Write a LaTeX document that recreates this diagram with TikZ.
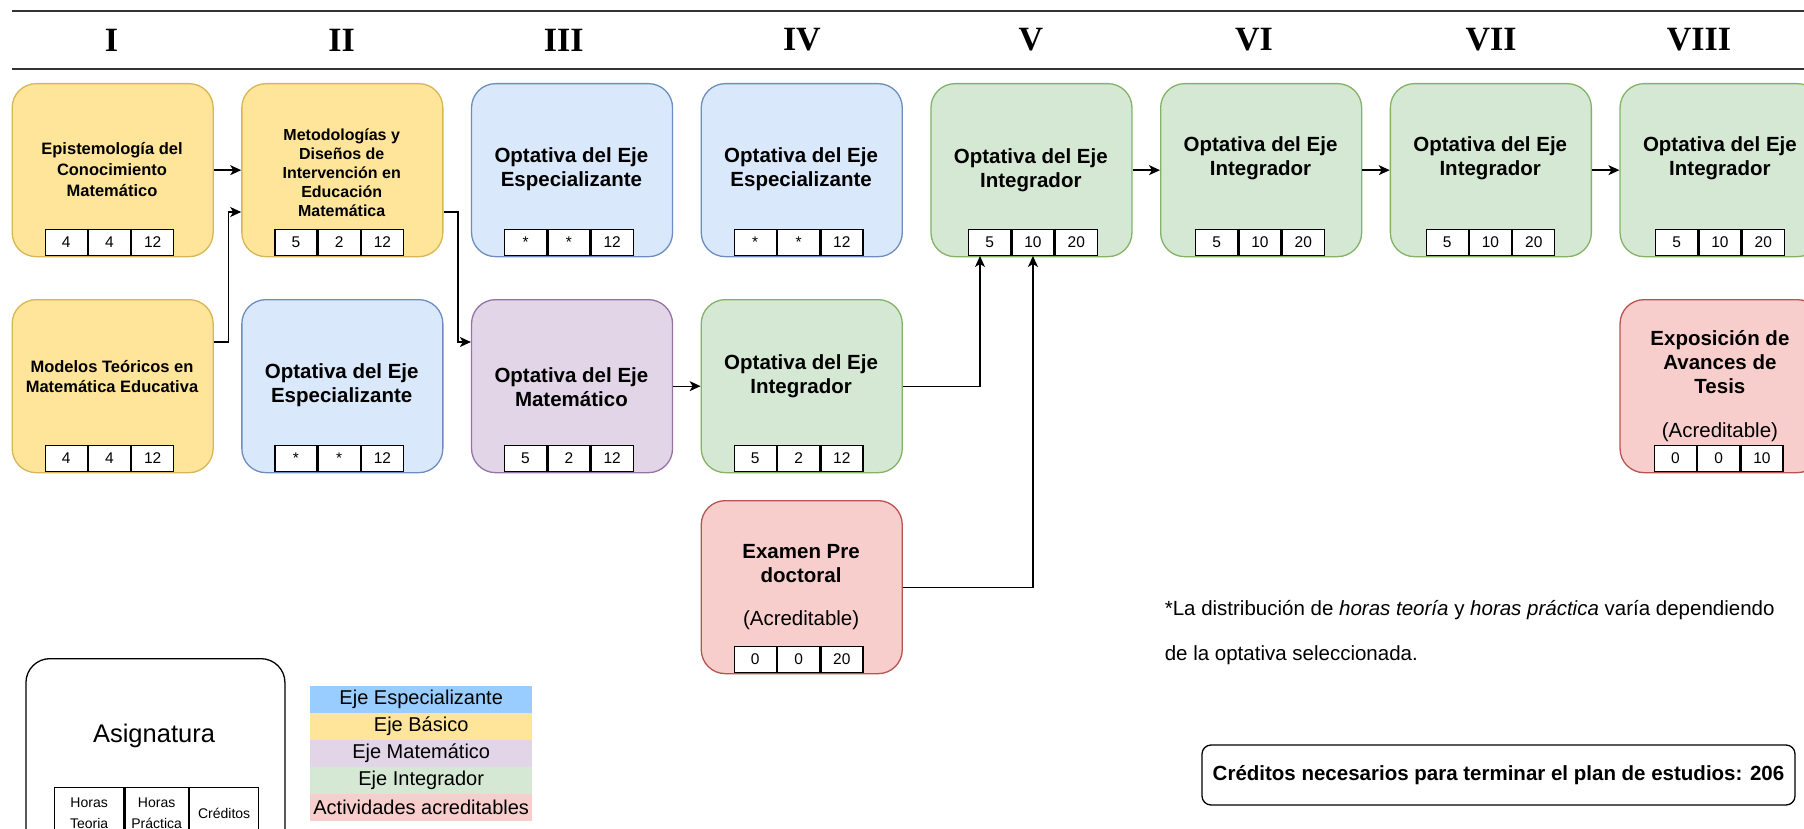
\documentclass[tikz,border=0pt]{standalone}
\usepackage{fontspec}
\setmainfont{Liberation Sans}
\newfontfamily\romfont{Liberation Serif}
\usetikzlibrary{arrows.meta}
\definecolor{bfill}{HTML}{DAE8FC}
\definecolor{bline}{HTML}{6C8EBF}
\definecolor{yfill}{HTML}{FFE599}
\definecolor{yline}{HTML}{D6B656}
\definecolor{pfill}{HTML}{E1D5E7}
\definecolor{pline}{HTML}{9673A6}
\definecolor{gfill}{HTML}{D5E8D4}
\definecolor{gline}{HTML}{82B366}
\definecolor{rfill}{HTML}{F8CECC}
\definecolor{rline}{HTML}{B85450}
\definecolor{legblue}{HTML}{99CCFF}
\definecolor{hdr}{HTML}{333333}
\newcommand\fsz[2]{\fontsize{#1}{#2}\selectfont}
\newcommand\mktab[6]{%
  \node[cell,anchor=south west] (#1a) at (#2,#3) {#4};
  \node[cell,anchor=west] (#1b) at (#1a.east) {#5};
  \node[cell,anchor=west] (#1c) at (#1b.east) {#6};}
\begin{document}
\begin{tikzpicture}[x=1pt,y=-1pt,
  box/.style={draw, rounded corners=24pt, minimum width=201pt, minimum height=173pt, line width=1.3pt, inner sep=0pt, anchor=north west},
  yel/.style={fill=yfill,draw=yline},
  blu/.style={fill=bfill,draw=bline},
  pur/.style={fill=pfill,draw=pline},
  grn/.style={fill=gfill,draw=gline},
  red/.style={fill=rfill,draw=rline},
  ttl/.style={align=center, inner sep=0pt, font=\bfseries\fsz{20.5}{24}},
  acr/.style={inner sep=0pt, font=\fsz{20.5}{24}},
  cell/.style={draw=black, fill=white, line width=1.3pt, minimum width=42pt, minimum height=26pt, inner sep=0pt, font=\fsz{15.5}{18}},
  lcell/.style={draw=black, fill=white, line width=1.3pt, minimum height=51pt, inner sep=0pt, align=center, font=\fsz{14}{21}},
  leg/.style={minimum width=222pt, minimum height=26.6pt, inner sep=0pt, font=\fsz{20}{24}},
  arr/.style={draw=black, line width=1.3pt, -{Stealth[length=11pt,width=10pt,inset=3pt]}},
  numeral/.style={font=\romfont\bfseries\fsz{34}{40}, inner sep=0pt},
]
\useasboundingbox (0,0) rectangle (1804,829);
\clip (0,0) rectangle (1804,829);
% header
\draw[hdr, line width=2pt] (11.5,11.5) -- (1804,11.5);
\draw[hdr, line width=2pt] (11.5,69) -- (1804,69);
\node[numeral] (n1) at (111.6,40) {I};
\node[numeral] (n2) at (341.7,40) {II};
\node[numeral] (n3) at (563.7,40) {III};
\node[numeral] (n4) at (801.9,40) {IV};
\node[numeral] (n5) at (1030.8,40) {V};
\node[numeral] (n6) at (1254,40) {VI};
\node[numeral] (n7) at (1491,40) {VII};
\node[numeral] (n8) at (1699,40) {VIII};
% row 1
\node[box,yel] (c1) at (11.5,83) {};
\node[ttl,font=\bfseries\fsz{16.5}{21}] (c1t) at (112,170) {Epistemología del\\Conocimiento\\Matemático};
\mktab{c1}{44.5}{256}{4}{4}{12}
\node[box,yel] (c2) at (241.2,83) {};
\node[ttl,font=\bfseries\fsz{16}{19}] (c2t) at (341.7,173) {Metodologías y\\Diseños de\\Intervención en\\Educación\\Matemática};
\mktab{c2}{274.2}{256}{5}{2}{12}
\node[box,blu] (c3) at (470.9,83) {};
\node[ttl] (c3t) at (571.4,169) {Optativa del Eje\\Especializante};
\mktab{c3}{503.9}{256}{*}{*}{12}
\node[box,blu] (c4) at (700.6,83) {};
\node[ttl] (c4t) at (801.1,169) {Optativa del Eje\\Especializante};
\mktab{c4}{733.6}{256}{*}{*}{12}
\node[box,grn] (c5) at (930.3,83) {};
\node[ttl] (c5t) at (1030.8,170.5) {Optativa del Eje\\Integrador};
\mktab{c5}{968}{256}{5}{10}{20}
\node[box,grn] (c6) at (1160,83) {};
\node[ttl] (c6t) at (1260.5,158) {Optativa del Eje\\Integrador};
\mktab{c6}{1195}{256}{5}{10}{20}
\node[box,grn] (c7) at (1389.7,83) {};
\node[ttl] (c7t) at (1490.2,158) {Optativa del Eje\\Integrador};
\mktab{c7}{1425.5}{256}{5}{10}{20}
\node[box,grn] (c8) at (1619.4,83) {};
\node[ttl] (c8t) at (1719.9,158) {Optativa del Eje\\Integrador};
\mktab{c8}{1655}{256}{5}{10}{20}
% row 2
\node[box,yel] (m1) at (11.5,299) {};
\node[ttl,font=\bfseries\fsz{16.5}{20}] (m1t) at (112,376.7) {Modelos Teóricos en\\Matemática Educativa};
\mktab{m1}{44.5}{472}{4}{4}{12}
\node[box,blu] (e2) at (241.2,299) {};
\node[ttl] (e2t) at (341.7,385) {Optativa del Eje\\Especializante};
\mktab{e2}{274.2}{472}{*}{*}{12}
\node[box,pur] (p3) at (470.9,299) {};
\node[ttl] (p3t) at (571.4,387) {Optativa del Eje\\Matemático};
\mktab{p3}{503.9}{472}{5}{2}{12}
\node[box,grn] (g4) at (700.6,299) {};
\node[ttl] (g4t) at (801.1,376) {Optativa del Eje\\Integrador};
\mktab{g4}{733.6}{472}{5}{2}{12}
\node[box,red] (t8) at (1619.4,299) {};
\node[ttl] (t8t) at (1719.9,362) {Exposición de\\Avances de\\Tesis};
\node[acr] (t8a) at (1719.9,432) {(Acreditable)};
\mktab{t8}{1653.7}{472}{0}{0}{10}
% row 3
\node[box,red] (x4) at (700.6,500) {};
\node[ttl] (x4t) at (801.1,563.5) {Examen Pre\\doctoral};
\node[acr] (x4a) at (801.1,620) {(Acreditable)};
\mktab{x4}{733.6}{673}{0}{0}{20}
% connectors
\draw[arr] (c1.east) -- (c2.west);
\draw[arr] ([yshift=-43pt]m1.north east) -- ++(15,0) |- ([yshift=-129pt]c2.north west);
\draw[arr] ([yshift=-129pt]c2.north east) -- ++(14.4,0) |- ([yshift=-43pt]p3.north west);
\draw[arr] (p3.east) -- (g4.west);
\draw[arr] (g4.east) -| ([xshift=12pt]c5a.south west);
\draw[arr] (x4.east) -| (c5b.south);
\draw[arr] (c5.east) -- (c6.west);
\draw[arr] (c6.east) -- (c7.west);
\draw[arr] (c7.east) -- (c8.west);
% note
\node[anchor=west, align=left, font=\fsz{20.5}{45}, inner sep=0pt] (note) at (1164.6,632.5) {*La distribución de \textit{horas teoría} y \textit{horas práctica} varía dependiendo\\de la optativa seleccionada.};
% legend: asignatura
\node[draw=black, line width=1.3pt, rounded corners=24pt, minimum width=259pt, minimum height=250pt, anchor=north west, inner sep=0pt] (asig) at (25.3,658) {};
\node[font=\fsz{25.5}{30}, inner sep=0pt] (asigt) at (154,736) {Asignatura};
\node[lcell, minimum width=69pt, anchor=north west] (h1) at (54,787) {Horas\\Teoria};
\node[lcell, minimum width=63.4pt, anchor=west] (h2) at (h1.east) {Horas\\Práctica};
\node[lcell, minimum width=69pt, anchor=west] (h3) at (h2.east) {Créditos};
% legend colours
\node[leg, fill=legblue, anchor=north west] (l1) at (310,686) {Eje Especializante};
\node[leg, fill=yfill, anchor=north] (l2) at (l1.south) {Eje Básico};
\node[leg, fill=pfill, anchor=north] (l3) at (l2.south) {Eje Matemático};
\node[leg, fill=gfill, anchor=north] (l4) at (l3.south) {Eje Integrador};
\node[leg, fill=rfill, anchor=north] (l5) at (l4.south) {Actividades acreditables};
% credits
\node[draw=black, line width=1.3pt, rounded corners=9pt, minimum width=593pt, minimum height=60pt, inner sep=0pt, font=\bfseries\fsz{20.5}{24}] (cred) at (1498.5,775) {Créditos necesarios para terminar el plan de estudios: 206};
\end{tikzpicture}
\end{document}
